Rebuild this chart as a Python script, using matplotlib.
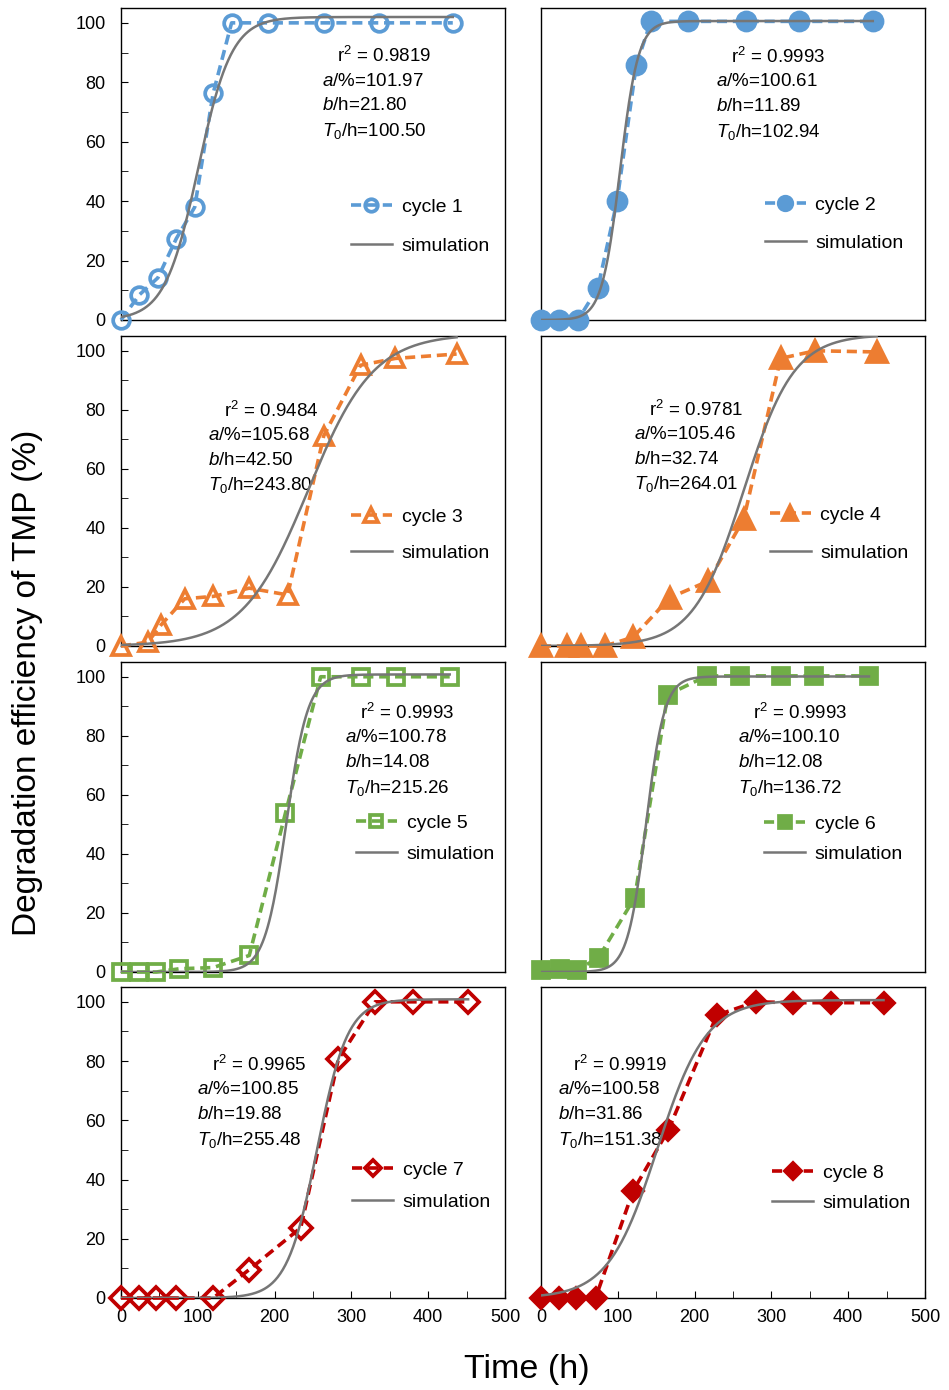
import numpy as np
import matplotlib.pyplot as plt

plt.rcParams['font.family'] = ['Liberation Sans', 'DejaVu Sans']
plt.rcParams['mathtext.fontset'] = 'custom'
plt.rcParams['mathtext.rm'] = 'Liberation Sans'
plt.rcParams['mathtext.it'] = 'Liberation Sans:italic'

# sampling times (h) for each cycle
t1 = [0, 24, 48, 72, 96, 120, 144, 192, 264, 336, 432]
t2 = [0, 24, 48, 74, 99, 124, 143, 192, 267, 336, 432]
t3 = [0, 35, 52, 83, 120, 167, 217, 264, 312, 357, 437]
t4 = [0, 34, 52, 83, 120, 168, 218, 264, 312, 357, 437]
t5 = [0, 24, 46, 76, 120, 167, 214, 260, 312, 358, 428]
t6 = [0, 25, 47, 75, 122, 165, 216, 259, 312, 356, 427]
t7 = [0, 24, 46, 71, 120, 167, 234, 283, 331, 380, 452]
t8 = [0, 24, 46, 71, 120, 166, 229, 280, 328, 378, 446]

# degradation efficiency (%)
d1 = [0, 8.5, 14.2, 27.4, 38.0, 76.3, 100, 100, 100, 100, 100]
d2 = [0, 0, 0, 10.8, 40.0, 85.7, 100.5, 100.5, 100.5, 100.5, 100.5]
d3 = [0, 1.3, 7.1, 16.0, 16.8, 19.6, 17.3, 71.2, 95.1, 97.4, 98.9]
d4 = [0, 0, 0, 0, 3.0, 16.4, 22.0, 43.0, 97.4, 100, 99.6]
d5 = [0, 0, 0, 1.1, 1.5, 5.6, 53.7, 100, 100, 100, 100]
d6 = [0.6, 0.9, 0.6, 4.9, 25.2, 93.9, 100.3, 100.3, 100.3, 100.3, 100.3]
d7 = [0, 0, 0, 0, 0, 9.6, 23.7, 80.6, 100, 100, 100]
d8 = [0, 0, 0, 0, 36.2, 56.8, 95.5, 100, 99.7, 99.7, 99.7]

# fitted logistic parameters: r2, a (%), b (h), T0 (h)
r2 = ['0.9819', '0.9993', '0.9484', '0.9781', '0.9993', '0.9993', '0.9965', '0.9919']
a_fit = [101.97, 100.61, 105.68, 105.46, 100.78, 100.10, 100.85, 100.58]
b_fit = [21.80, 11.89, 42.50, 32.74, 14.08, 12.08, 19.88, 31.86]
T0_fit = [100.50, 102.94, 243.80, 264.01, 215.26, 136.72, 255.48, 151.38]

times = [t1, t2, t3, t4, t5, t6, t7, t8]
data = [d1, d2, d3, d4, d5, d6, d7, d8]

blue, orange, green, red = '#5b9bd5', '#ed7d31', '#70ad47', '#c00000'
colors = [blue, blue, orange, orange, green, green, red, red]
markers = ['o', 'o', '^', '^', 's', 's', 'D', 'D']
filled = [False, True, False, True, False, True, False, True]
msizes = [12, 13, 13.5, 14, 12, 11.5, 11, 10.5]

# layout (axes fractions): text block x, r2 line y; legend x, legend y, row spacing
txt_pos = [(0.523, 0.846), (0.456, 0.843), (0.227, 0.758), (0.242, 0.761),
           (0.583, 0.835), (0.513, 0.835), (0.198, 0.749), (0.044, 0.749)]
leg_pos = [(0.599, 0.300, 1.09), (0.583, 0.308, 1.04), (0.599, 0.358, 0.93),
           (0.596, 0.361, 1.04), (0.612, 0.431, 0.68), (0.581, 0.429, 0.62),
           (0.602, 0.360, 0.73), (0.602, 0.354, 0.62)]

W, H = 949, 1390
col_x = [121, 541]
col_w = 384
rows = [(8, 320), (336, 646), (662, 972), (987, 1298)]

fig = plt.figure(figsize=(W / 100, H / 100), dpi=100)

for i in range(8):
    r, c = divmod(i, 2)
    top, bot = rows[r]
    ax = fig.add_axes([col_x[c] / W, 1 - bot / H, col_w / W, (bot - top) / H])

    t = np.array(times[i])
    tt = np.linspace(0, t[-1], 400)
    sim = a_fit[i] / (1 + np.exp(-(tt - T0_fit[i]) / b_fit[i]))

    ax.plot(t, data[i], color=colors[i], lw=2.6, dashes=[2.8, 1.6],
            marker=markers[i], ms=msizes[i], mew=2.7,
            mfc=colors[i] if filled[i] else 'none', mec=colors[i],
            clip_on=False, zorder=3, label='cycle %d' % (i + 1))
    ax.plot(tt, sim, color='#767676', lw=1.8, zorder=4, label='simulation')

    ax.set_xlim(0, 500)
    ax.set_ylim(0, 105)

    if c == 0:
        ax.set_yticks(range(0, 101, 20))
        ax.set_yticks(range(0, 101, 10), minor=True)
        ax.tick_params(axis='y', which='both', direction='in', length=5,
                       labelsize=13, pad=11)
    else:
        ax.set_yticks([])
    if r == 3:
        ax.set_xticks(range(0, 501, 100))
        ax.set_xticks(range(0, 501, 50), minor=True)
        ax.tick_params(axis='x', which='both', direction='in', length=5,
                       labelsize=13, pad=8)
    else:
        ax.set_xticks([])
    for s in ax.spines.values():
        s.set_linewidth(1.0)
        s.set_color('black')

    tx, ty = txt_pos[i]
    dy = 0.08
    fs = 13.5
    ax.text(tx + 0.04, ty, r'r$^2$ = ' + r2[i], transform=ax.transAxes,
            fontsize=fs, va='center')
    ax.text(tx, ty - dy, r'$a$/%%=%.2f' % a_fit[i], transform=ax.transAxes,
            fontsize=fs, va='center')
    ax.text(tx, ty - 2 * dy, r'$b$/h=%.2f' % b_fit[i], transform=ax.transAxes,
            fontsize=fs, va='center')
    ax.text(tx, ty - 3 * dy, r'$T_{\mathit{0}}$/h=%.2f' % T0_fit[i],
            transform=ax.transAxes, fontsize=fs, va='center')

    lx, ly, ls = leg_pos[i]
    ax.legend(loc='center left', bbox_to_anchor=(lx, ly), frameon=False,
              fontsize=14, borderpad=0, borderaxespad=0, handlelength=2.1,
              handletextpad=0.5, labelspacing=ls, numpoints=1, markerscale=0.75)

fig.text(0.029, 0.509, 'Degradation efficiency of TMP (%)', rotation=90,
         ha='center', va='center', fontsize=24)
fig.text(0.555, 0.0144, 'Time (h)', ha='center', va='center', fontsize=24.5)

fig.savefig('out.png', dpi=100)
